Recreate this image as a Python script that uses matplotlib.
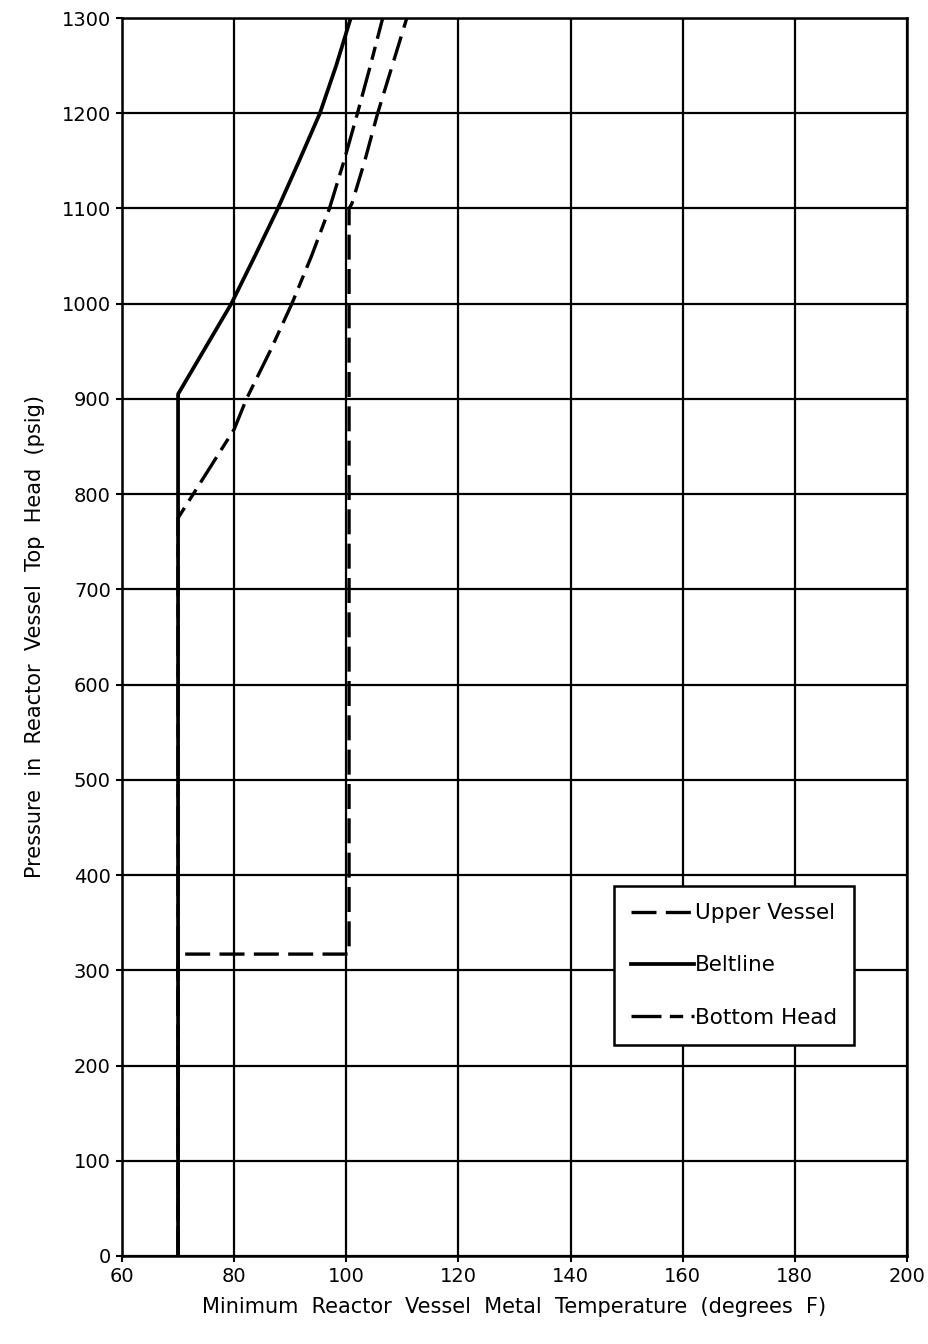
import matplotlib
matplotlib.use("Agg")
import matplotlib.pyplot as plt

# curve data (temperature degF, pressure psig)
upper_t = [70, 70, 100.5, 100.5, 101, 103.3, 105.6, 108.2, 110.8]
upper_p = [0, 317, 317, 1100, 1105, 1150, 1200, 1250, 1300]

belt_t = [70, 70, 74.8, 79.5, 83.7, 87.8, 91.6, 95.3, 98.2, 100.8]
belt_p = [0, 905, 953, 1000, 1050, 1100, 1150, 1200, 1250, 1300]

bottom_t = [70, 70, 72.7, 80, 82.2, 86.4, 90.3, 93.8, 97, 99.6, 102, 104.3, 106.5]
bottom_p = [0, 775, 800, 868, 900, 950, 1000, 1050, 1100, 1150, 1200, 1250, 1300]

xticks = list(range(60, 201, 20))
yticks = list(range(0, 1301, 100))

plt.rcParams["font.family"] = ["DejaVu Sans"]

fig = plt.figure(figsize=(9.29, 13.44), dpi=100)
ax = fig.add_axes([0.1313, 0.0655, 0.845, 0.9211])

lw = 2.4
ax.plot(upper_t, upper_p, color="black", lw=lw, dashes=(7.5, 2.8),
        label="Upper Vessel", zorder=4)
ax.plot(bottom_t, bottom_p, color="black", lw=lw, dashes=(9, 2.5, 4, 2.5),
        label="Bottom Head", zorder=4)
ax.plot(belt_t, belt_p, color="black", lw=lw + 0.3, label="Beltline", zorder=5)

ax.set_xlim(60, 200)
ax.set_ylim(0, 1300)
ax.set_xticks(xticks)
ax.set_yticks(yticks)
ax.grid(True, color="black", linewidth=1.6)
ax.set_axisbelow(True)
for s in ax.spines.values():
    s.set_linewidth(1.8)
ax.tick_params(direction="out", length=4, width=1.5, labelsize=14, pad=4)

ax.set_xlabel("Minimum  Reactor  Vessel  Metal  Temperature  (degrees  F)",
              fontsize=15, labelpad=8)
ax.set_ylabel("Pressure  in  Reactor  Vessel  Top  Head  (psig)",
              fontsize=15, labelpad=12)

handles, labels = ax.get_legend_handles_labels()
order = [labels.index(n) for n in ["Upper Vessel", "Beltline", "Bottom Head"]]
leg = ax.legend([handles[i] for i in order], [labels[i] for i in order],
                loc="upper left", bbox_to_anchor=(0.627, 0.299),
                borderaxespad=0, fontsize=15.5, handlelength=2.9,
                handletextpad=0.05, labelspacing=1.5, borderpad=0.8,
                fancybox=False, framealpha=1, edgecolor="black")
leg.get_frame().set_linewidth(1.8)

fig.savefig("out.png", dpi=100)
